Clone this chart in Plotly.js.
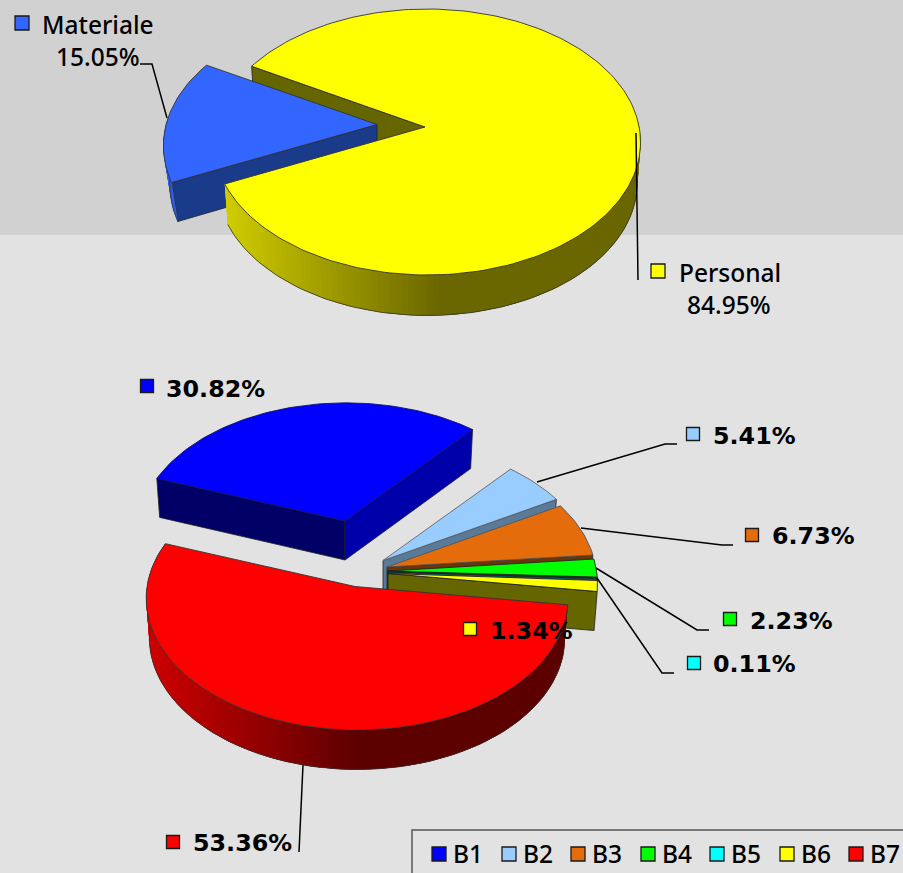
<!DOCTYPE html>
<html>
<head>
<meta charset="utf-8">
<script src="https://cdn.plot.ly/plotly-3.0.1.min.js"></script>
<style>html,body{margin:0;padding:0;background:#e2e2e2;overflow:hidden}</style>
</head>
<body>
<div id="chart" style="width:903px;height:873px"></div>
<script>
// ---- data ----
const topNames = ['Personal', 'Materiale'];
const topValues = [84.95, 15.05];
const bottomNames = ['B1', 'B2', 'B3', 'B4', 'B5', 'B6', 'B7'];
const bottomValues = [30.82, 5.41, 6.73, 2.23, 0.11, 1.34, 53.36];
const bottomColors = ['#0000ff', '#99ccff', '#e46c0a', '#00ff00', '#00ffff', '#ffff00', '#ff0000'];
const bottomWalls = ['#0000aa', '#5a7a99', '#6b3505', '#006600', '#006666', '#666600', '#600000'];

// ---- projection of a tilted disc ----
const DEG = Math.PI / 180;
const topDisc = {R: 212, S: 131.3, k: 0.1128, j: 0.01, depth: 40.5, sc: 0.985};
const matDisc = {R: 213, S: 131, k: 0.16, j: 0.01, depth: 39, sc: 0.97};
const botDisc = {R: 207.5, S: 129, k: 0.092, j: 0.005, depth: 39, sc: 0.985};
const redDisc = {R: 210, S: 130.3, k: 0.092, j: 0.01, depth: 39.5, sc: 0.985};
function proj(d, apex, deg) {
  const u = Math.cos(deg * DEG), v = Math.sin(deg * DEG);
  const w = 1 - d.k * v - d.j * u;
  return [apex[0] + d.R * u / w, apex[1] + d.S * v / w];
}
function low(d, apex, p) {
  return [apex[0] + (p[0] - apex[0]) * d.sc, p[1] + d.depth];
}
function arc(d, apex, a0, a1) {
  const n = Math.max(2, Math.ceil(Math.abs(a1 - a0) / 1.5));
  const pts = [];
  for (let i = 0; i <= n; i++) pts.push(proj(d, apex, a0 + (a1 - a0) * i / n));
  return pts;
}
const traces = [];
function poly(pts, fill, lineColor, lw) {
  traces.push({
    type: 'scatter', mode: 'lines', hoverinfo: 'skip', showlegend: false,
    x: pts.map(p => p[0]), y: pts.map(p => p[1]),
    fill: 'toself', fillcolor: fill,
    line: {color: lineColor || fill, width: lw === undefined ? 1 : lw}
  });
}
function path(pts, color, lw) {
  traces.push({
    type: 'scatter', mode: 'lines', hoverinfo: 'skip', showlegend: false,
    x: pts.map(p => p[0]), y: pts.map(p => p[1]),
    line: {color: color, width: lw}
  });
}
function topFace(d, apex, a0, a1, color, edge) {
  const pts = [apex].concat(arc(d, apex, a0, a1), [apex]);
  poly(pts, color, edge || '#333333', 0.9);
}
function cutFace(d, apex, a, color) {
  const t = proj(d, apex, a);
  const pts = [apex, t, low(d, apex, t), low(d, apex, apex), apex];
  poly(pts, color, '#222222', 0.8);
}
function mix(c0, c1, f) {
  f = Math.max(0, Math.min(1, f));
  const r = c0.map((c, i) => Math.round(c + (c1[i] - c) * f));
  return 'rgb(' + r.join(',') + ')';
}
// wall of the round edge: overlapping bands painted in turn, so no seams appear
function rimWall(d, apex, a0, a1, shade) {
  const pts = arc(d, apex, a0, a1);
  for (let i = 0; i < pts.length - 1; i++) {
    const p = pts[i], m = pts[i + 1];
    const last = Math.min(i + 3, pts.length - 1);
    const band = [p];
    for (let j = i + 1; j <= last; j++) band.push(pts[j]);
    for (let j = last; j >= i; j--) band.push(low(d, apex, pts[j]));
    band.push(p);
    traces.push({
      type: 'scatter', mode: 'none', hoverinfo: 'skip', showlegend: false,
      x: band.map(b => b[0]), y: band.map(b => b[1]),
      fill: 'toself', fillcolor: shade((p[0] + m[0]) / 2)
    });
  }
  path(pts.map(p => low(d, apex, p)), '#333333', 0.8);
}

// ---- top pie ----
const topStart = 209.5;
const topSweep = topValues.map(v => v * 3.6);
const apexPersonal = [425, 127], apexMaterial = [377, 124.5];
const yEnd = topStart + topSweep[0];
const mEnd = yEnd + topSweep[1];
cutFace(topDisc, apexPersonal, topStart, '#666600');
cutFace(matDisc, apexMaterial, yEnd - 360, '#1a3a8a');
rimWall(matDisc, apexMaterial, yEnd - 360, 183, () => '#2f5ce6');
topFace(matDisc, apexMaterial, yEnd - 360, mEnd - 360, '#3366ff');
rimWall(topDisc, apexPersonal, -3, yEnd - 360,
  x => mix([106, 102, 0], [208, 204, 0], (440 - x) / 215));
topFace(topDisc, apexPersonal, topStart, yEnd, '#ffff00');

// ---- bottom pie ----
const botStart = 200;
const apexes = [[345, 521], [383, 560.5], [387, 567], [388, 571], [388, 571.7], [388, 573.5], [355, 586.5]];
const from = [], to = [];
bottomValues.reduce((acc, v) => { from.push(acc); to.push(acc + v * 3.6); return acc + v * 3.6; }, botStart);
// B1
cutFace(botDisc, apexes[0], from[0], '#000066');
cutFace(botDisc, apexes[0], to[0], bottomWalls[0]);
topFace(botDisc, apexes[0], from[0], to[0], bottomColors[0], '#111166');
// B2..B6
for (let i = 1; i <= 5; i++) {
  cutFace(botDisc, apexes[i], to[i], bottomWalls[i]);
  topFace(botDisc, apexes[i], from[i], to[i], bottomColors[i], i === 1 ? '#666666' : (i === 2 ? '#555555' : '#222222'));
}
// B7
const red0 = from[6] - 360, red1 = to[6] - 360;
rimWall(redDisc, apexes[6], red0, red1,
  x => mix([92, 0, 0], [204, 0, 0], (360 - x) / 210));
topFace(redDisc, apexes[6], red0, red1, bottomColors[6]);

// ---- leader lines ----
const leaders = [
  [[140, 64], [152, 64], [167, 118]],
  [[636, 133], [638, 280]],
  [[537, 482], [665, 444], [677, 444]],
  [[581, 528], [722, 545], [733, 545]],
  [[596, 568], [697, 630], [709, 630]],
  [[597, 578], [662, 673], [674, 673]],
  [[303, 765], [299, 852]]
];
leaders.forEach(l => path(l, '#000000', 1.5));

// ---- keys ----
const keyX = [147, 693, 752, 730, 694, 470, 173];
const keyY = [386, 434, 535, 619, 663, 629, 842];
const legendKeyX = [439, 509, 578, 648, 717, 787, 856];
const legendKeyY = 854;
function keys(xs, ys, colors, size) {
  traces.push({
    type: 'scatter', mode: 'markers', hoverinfo: 'skip', showlegend: false,
    x: xs, y: ys,
    marker: {symbol: 'square', size: size, color: colors, line: {color: '#1a1a1a', width: 1.3}}
  });
}
keys([22, 658], [23, 271], ['#3366ff', '#ffff00'], 14);
keys(keyX, keyY, bottomColors, 13);
keys(legendKeyX, legendKeyX.map(() => legendKeyY), bottomColors, 14);

// ---- text ----
const fmt = v => v.toFixed(2) + '%';
const thin = {family: '"Noto Sans", sans-serif', size: 24.5, color: '#000000', weight: 500};
const bold = {family: '"DejaVu Sans", sans-serif', size: 23.8, color: '#000000'};
function label(x, y, text, font, anchor) {
  return {x: x, y: y, xref: 'x', yref: 'y', text: text, showarrow: false, font: font,
    xanchor: anchor || 'left', yanchor: 'middle', borderpad: 0};
}
const labelX = [165, 712, 771, 749, 712, 489, 192];
const labelY = [389, 436, 536, 621, 664, 631, 843];
const annotations = [
  label(98, 24, topNames[1], thin, 'center'),
  label(98, 56, fmt(topValues[1]), thin, 'center'),
  label(730, 272, topNames[0], thin, 'center'),
  label(729, 304, fmt(topValues[0]), thin, 'center')
];
bottomValues.forEach((v, i) => annotations.push(label(labelX[i], labelY[i], '<b>' + fmt(v) + '</b>', bold)));
bottomNames.forEach((n, i) => annotations.push(label(legendKeyX[i] + 12.5, 853, n, thin)));

const layout = {
  width: 903, height: 873,
  margin: {l: 0, r: 0, t: 0, b: 0},
  paper_bgcolor: '#e2e2e2', plot_bgcolor: '#e2e2e2',
  showlegend: false,
  xaxis: {range: [0, 903], visible: false, fixedrange: true},
  yaxis: {range: [873, 0], visible: false, fixedrange: true},
  annotations: annotations,
  shapes: [
    {type: 'rect', layer: 'below', xref: 'x', yref: 'y', x0: 0, x1: 903, y0: 0, y1: 235,
      fillcolor: '#d1d1d1', line: {width: 0}},
    {type: 'path', layer: 'below', xref: 'x', yref: 'y', path: 'M412,873 L412,830 L903,830',
      line: {color: '#555555', width: 1.5}}
  ]
};
Plotly.newPlot('chart', traces, layout, {displayModeBar: false, staticPlot: true});
</script>
</body>
</html>
